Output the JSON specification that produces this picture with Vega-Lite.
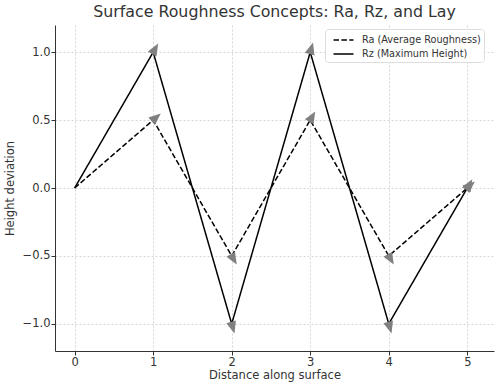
{
  "$schema": "https://vega.github.io/schema/vega-lite/v6.json",
  "autosize": "none",
  "padding": {"left": 55, "top": 25, "right": 6, "bottom": 38},
  "width": 439,
  "height": 326,
  "background": "white",
  "config": {
    "font": "DejaVu Sans",
    "view": {"stroke": null},
    "axis": {
      "labelFont": "DejaVu Sans", "titleFont": "DejaVu Sans",
      "labelFontSize": 11.5, "titleFontSize": 11.5, "titleFontWeight": "normal",
      "labelColor": "#333", "titleColor": "#333",
      "domainColor": "#333", "tickColor": "#333", "tickSize": 4, "labelPadding": 1,
      "gridColor": "#cccccc", "gridDash": [2, 2], "gridWidth": 0.8
    }
  },
  "title": {
    "text": "Surface Roughness Concepts: Ra, Rz, and Lay",
    "fontSize": 15.8, "fontWeight": "normal", "color": "#333", "offset": 4, "font": "DejaVu Sans"
  },
  "data": {
    "values": [
      {"series": "Ra (Average Roughness)", "x": 0, "y": 0},
      {"series": "Ra (Average Roughness)", "x": 1, "y": 0.5},
      {"series": "Ra (Average Roughness)", "x": 2, "y": -0.5},
      {"series": "Ra (Average Roughness)", "x": 3, "y": 0.5},
      {"series": "Ra (Average Roughness)", "x": 4, "y": -0.5},
      {"series": "Ra (Average Roughness)", "x": 5, "y": 0},
      {"series": "Rz (Maximum Height)", "x": 0, "y": 0},
      {"series": "Rz (Maximum Height)", "x": 1, "y": 1},
      {"series": "Rz (Maximum Height)", "x": 2, "y": -1},
      {"series": "Rz (Maximum Height)", "x": 3, "y": 1},
      {"series": "Rz (Maximum Height)", "x": 4, "y": -1},
      {"series": "Rz (Maximum Height)", "x": 5, "y": 0}
    ]
  },
  "encoding": {
    "x": {
      "field": "x", "type": "quantitative",
      "scale": {"domain": [-0.25, 5.34], "nice": false, "zero": false},
      "axis": {"title": "Distance along surface", "values": [0, 1, 2, 3, 4, 5], "format": "d", "titlePadding": 2}
    },
    "y": {
      "field": "y", "type": "quantitative",
      "scale": {"domain": [-1.2, 1.2], "nice": false, "zero": false},
      "axis": {"title": "Height deviation", "values": [-1, -0.5, 0, 0.5, 1], "format": ".1f", "titlePadding": 7}
    }
  },
  "layer": [
    {
      "mark": {"type": "line", "color": "black", "strokeWidth": 1.5},
      "encoding": {
        "strokeDash": {
          "field": "series", "type": "nominal",
          "scale": {"domain": ["Ra (Average Roughness)", "Rz (Maximum Height)"], "range": [[5.5, 2.4], [1, 0]]},
          "legend": {
            "title": null, "orient": "none", "legendX": 270, "legendY": 4,
            "symbolType": "M -1.333 0 L 1.333 0", "symbolSize": 225, "symbolStrokeWidth": 1.5,
            "symbolStrokeColor": "black", "symbolFillColor": "transparent",
            "symbolOffset": 7.5,
            "labelFontSize": 9.7, "labelColor": "#333", "labelFont": "DejaVu Sans",
            "strokeColor": "#dddddd", "fillColor": "white", "padding": 2.5, "cornerRadius": 3,
            "rowPadding": 0, "labelOffset": 10, "labelLimit": 300
          }
        },
        "detail": {"field": "series"}
      }
    },
    {
      "transform": [
        {"window": [{"op": "lag", "field": "x", "as": "px"}, {"op": "lag", "field": "y", "as": "py"}], "groupby": ["series"], "sort": [{"field": "x"}]},
        {"filter": "datum.px != null"},
        {"calculate": "atan2((datum.x - datum.px) * 78.5, (datum.y - datum.py) * 136) * 180 / PI", "as": "ang"}
      ],
      "mark": {"type": "point", "filled": true, "color": "#808080", "opacity": 1, "shape": "M -0.5 0.2 L 0.5 0.2 L 0 -1 Z", "size": 400},
      "encoding": {
        "angle": {"field": "ang", "type": "quantitative", "scale": null}
      }
    }
  ]
}
